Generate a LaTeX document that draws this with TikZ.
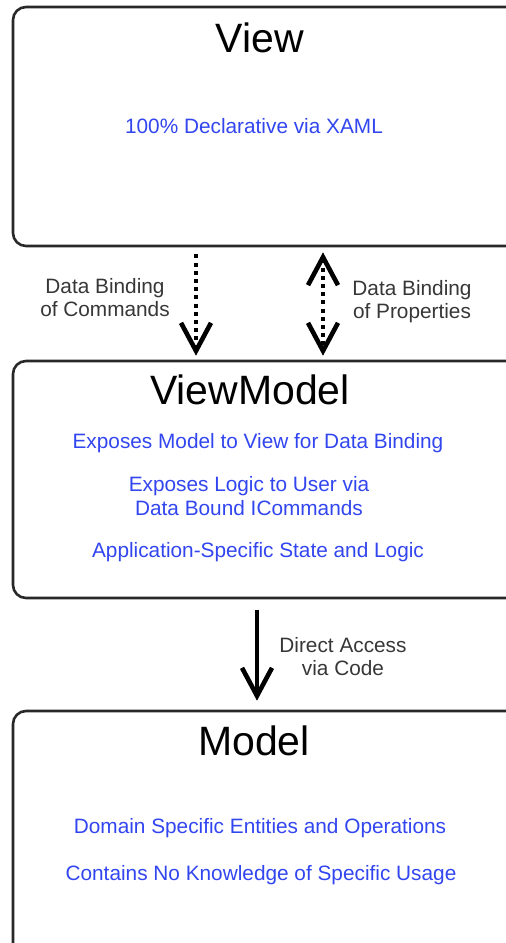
\documentclass[tikz,border=0pt]{standalone}
\usepackage{fontspec}
\setmainfont{Liberation Sans}
\usetikzlibrary{arrows.meta}
\definecolor{boxline}{RGB}{40,40,40}
\definecolor{bluetext}{RGB}{50,70,240}
\definecolor{labeltext}{RGB}{55,55,55}
\tikzset{
  layer/.style={draw=boxline, line width=2.6pt, rounded corners=13pt,
    minimum width=527pt, inner sep=0pt},
  title/.style={font=\fontsize{41}{46}\selectfont, text=black},
  item/.style={font=\fontsize{20.8}{24}\selectfont, text=bluetext, align=center},
  note/.style={font=\fontsize{20.8}{23}\selectfont, text=labeltext, align=center},
  headtip/.style={},
  barb/.style={line width=3.8pt, -{Straight Barb[length=28pt, width=30pt, line width=4.6pt]}},
  dualbarb/.style={line width=3.8pt, {Straight Barb[length=28pt, width=30pt, line width=4.6pt]}-{Straight Barb[length=28pt, width=30pt, line width=4.6pt]}},
  dots/.style={line width=4.4pt, dash pattern=on 4pt off 4.2pt}
}
\begin{document}
\begin{tikzpicture}[x=1pt, y=-1pt]
  \useasboundingbox (0,0) rectangle (506,943);
  \clip (0,0) rectangle (506,943);
  \fill[white] (0,0) rectangle (506,943);

  % three layers
  \node[layer, minimum height=239pt] (view)  at (276.5,126.5) {};
  \node[layer, minimum height=237pt] (vm)    at (276.5,479.5) {};
  \node[layer, minimum height=250pt] (model) at (276.5,836) {};

  % layer titles and contents
  \node[title] (viewT)  at (260,38)  {View};
  \node[item]  (viewA)  at (254,126) {100\% Declarative via XAML};

  \node[title] (vmT)    at (250,390) {ViewModel};
  \node[item]  (vmA)    at (258,443) {Exposes Model to View for Data Binding};
  \node[item]  (vmB)    at (249,496) {Exposes Logic to User via\\Data Bound ICommands};
  \node[item]  (vmC)    at (258,552) {Application-Specific State and Logic};

  \node[title] (modelT) at (254,741) {Model};
  \node[item]  (modelA) at (260,828) {Domain Specific Entities and Operations};
  \node[item]  (modelB) at (261,875) {Contains No Knowledge of Specific Usage};

  % connector columns
  \coordinate (cmdx)  at (196,0);
  \coordinate (propx) at (323,0);
  \coordinate (codex) at (257,0);

  % View <-> ViewModel bindings
  \draw[barb, dots, shorten <=7pt, shorten >=4pt] (view.south -| cmdx) -- (vm.north -| cmdx);
  \draw[dualbarb, dots, shorten <=5pt, shorten >=4pt] (view.south -| propx) -- (vm.north -| propx);
  \node[note] (cmdL)  at (105,298) {Data Binding\\of Commands};
  \node[note] (propL) at (412,302) {Data Binding\\of Properties};

  % ViewModel -> Model
  \draw[barb, shorten <=11pt, shorten >=9pt] (vm.south -| codex) -- (model.north -| codex);
  \node[note] (codeL) at (343,657) {Direct Access\\via Code};
\end{tikzpicture}
\end{document}
